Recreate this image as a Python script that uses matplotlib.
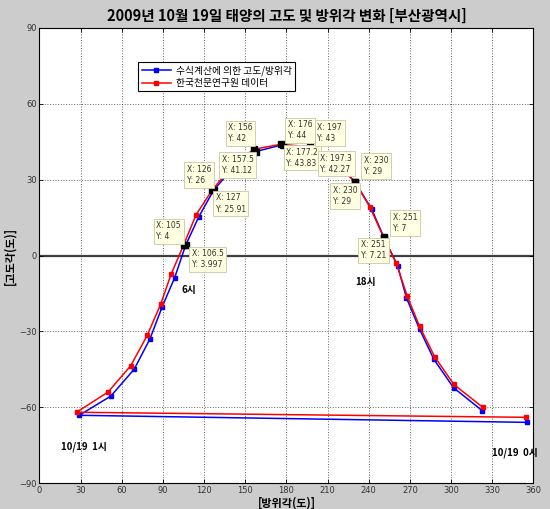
import numpy as np
import matplotlib.pyplot as plt

plt.rcParams['font.family'] = ['Noto Sans CJK KR', 'DejaVu Sans']

# hourly sun positions, 0시 .. 23시 (azimuth, altitude)
hours = list(range(24))
calc_az = [355.5, 29, 52, 69, 80.5, 89.5, 98.5, 106.5, 116, 127, 141, 157.5,
           177.2, 197.3, 216, 230, 242, 251, 261, 267.5, 277, 287.5, 301.8, 322.8]
calc_alt = [-66, -63.2, -55.6, -45, -33, -20.2, -8.8, 3.997, 15.2, 25.91, 34.6, 41.12,
            43.83, 42.27, 37, 29, 18.5, 7.21, -4, -16.8, -29.1, -41.1, -52.3, -61.4]
kasi_az = [354.5, 27, 50, 66.5, 78.5, 88.3, 96, 105, 114, 126, 140, 156,
           176, 197, 215, 230, 241, 251, 260, 268, 277, 288, 302, 323]
kasi_alt = [-64, -62, -54, -43.6, -31.6, -19.3, -7.3, 4, 16, 26, 35, 42,
            44, 43, 38, 29, 19, 7, -3, -16, -28, -40, -51, -60]

# data tips: (hour, series, offset of box centre in px)
tips = [(7, 'kasi', -15, 14), (7, 'calc', 22, -14),
        (9, 'kasi', -13, 15), (9, 'calc', 17, -13.5),
        (11, 'kasi', -13, 16), (11, 'calc', -18, -13.5),
        (12, 'kasi', 19.5, 14), (12, 'calc', 19.5, -13),
        (13, 'kasi', 20, 14), (13, 'calc', 26, -15),
        (15, 'kasi', 21, 16), (15, 'calc', -10, -14),
        (17, 'kasi', 21, 15), (17, 'calc', -10.5, -13)]

fig = plt.figure(figsize=(5.5, 5.09), dpi=100, facecolor='#cccccc')
ax = fig.add_axes([0.0718, 0.051, 0.898, 0.894])

ax.plot(calc_az, calc_alt, '-s', color='#0000ff', lw=1.1, ms=2.2,
        label='수식계산에 의한 고도/방위각')
ax.plot(kasi_az, kasi_alt, '-s', color='#ff0000', lw=1.1, ms=2.2,
        label='한국천문연구원 데이터')

ax.axhline(0, color='#404040', lw=1.6, zorder=1)

ax.set_xlim(0, 360)
ax.set_ylim(-90, 90)
ax.set_xticks(np.arange(0, 361, 30))
ax.set_yticks(np.arange(-90, 91, 30))
ax.grid(True, color='#333333', linestyle=(0, (1, 2.2)), lw=0.6)
ax.tick_params(direction='in', length=3, width=0.6, top=True, right=True,
               labelsize=6, labelcolor='#333333', pad=2)
for lab in ax.get_xticklabels() + ax.get_yticklabels():
    lab.set_family('DejaVu Sans')
for sp in ax.spines.values():
    sp.set_linewidth(0.8)

ax.set_title('2009년 10월 19일 태양의 고도 및 방위각 변화 [부산광역시]',
             fontsize=10.5, fontweight='bold', pad=5)
ax.set_xlabel('[방위각(도)]', fontsize=8, fontweight='bold', labelpad=1)
ax.set_ylabel('[고도각(도)]', fontsize=8, fontweight='bold', labelpad=2)

leg = ax.legend(loc='upper left', bbox_to_anchor=(0.2, 0.925), fontsize=7,
                fancybox=False, framealpha=1, edgecolor='black',
                handlelength=3, borderpad=0.35, labelspacing=0.2,
                handletextpad=0.5, borderaxespad=0)
leg.get_frame().set_linewidth(0.8)

# data tip boxes
px_to_pt = 72 / 100
for h, series, dx, dy in tips:
    if series == 'kasi':
        x, y = kasi_az[h], kasi_alt[h]
    else:
        x, y = calc_az[h], calc_alt[h]
    ax.plot(x, y, 's', color='black', ms=4.5, zorder=5)
    ax.annotate(f'X: {x:g}\nY: {y:g}', xy=(x, y),
                xytext=(dx * px_to_pt, dy * px_to_pt), textcoords='offset points',
                ha='center', va='center', multialignment='left',
                fontsize=5.5, color='#333333',
                family='DejaVu Sans', linespacing=1.3, zorder=6,
                bbox=dict(boxstyle='square,pad=0.35', fc='#ffffe1', ec='#c8c8a8', lw=0.6))

ax.text(108.7, -13.8, '6시', fontsize=7, fontweight='bold', ha='center', va='center')
ax.text(238, -10.3, '18시', fontsize=7, fontweight='bold', ha='center', va='center')
ax.text(32.4, -75.5, '10/19  1시', fontsize=7, fontweight='bold', ha='center', va='center')
ax.text(346.5, -77.9, '10/19  0시', fontsize=7, fontweight='bold', ha='center',
        va='center', clip_on=False)

fig.savefig('out.png', dpi=100, facecolor=fig.get_facecolor())
